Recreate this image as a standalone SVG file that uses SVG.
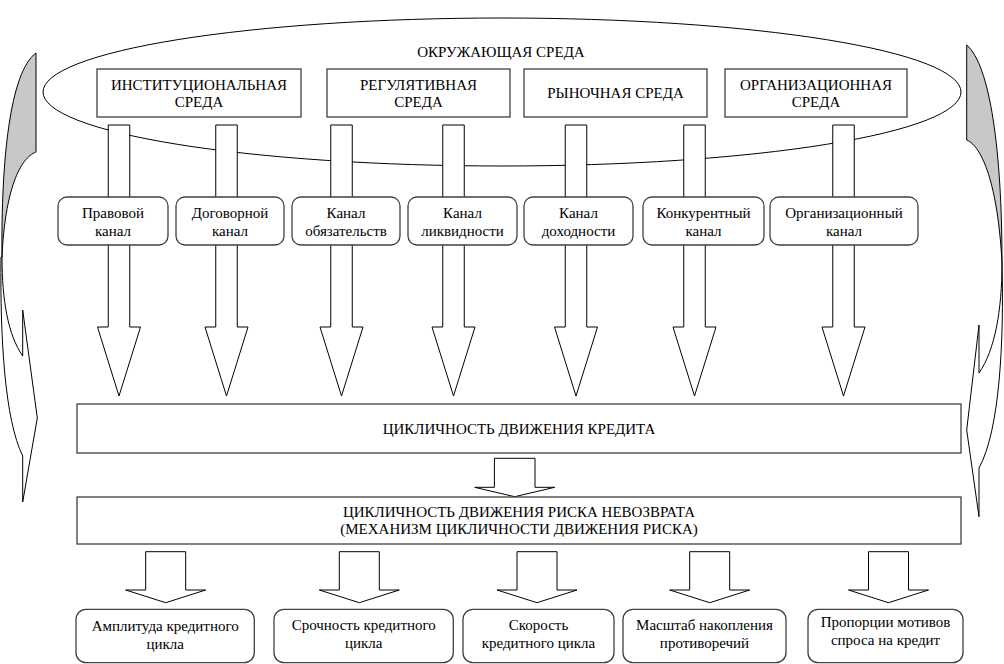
<svg xmlns="http://www.w3.org/2000/svg" xmlns:xlink="http://www.w3.org/1999/xlink" width="1004" height="664" viewBox="0 0 1004 664" font-family="'Liberation Serif', 'DejaVu Serif', serif">
<style>
text{font-family:'Liberation Serif','Times New Roman','DejaVu Serif',serif;font-size:15px;fill:#000;text-anchor:middle}
.box{fill:#fff;stroke:#404040;stroke-width:1.3}
.arr{fill:#fff;stroke:#000;stroke-width:1}
.side{stroke:#000;stroke-width:1}
</style>
<defs>
<path id="chArrow" d="M-10.75,0 H10.75 V202 H21.5 L0,271 L-21.5,202 H-10.75 Z"/>
<path id="midArrow" d="M-20.3,0 H20.3 V29 H40 L0,38.4 L-40,29 H-20.3 Z"/>
<path id="botArrow" d="M-20,0 H20 V38.3 H40 L0,51 L-40,38.3 H-20 Z"/>
</defs>
<rect width="1004" height="664" fill="#fff"/>

<g id="side-arrows">
<path class="side" fill="#c8c8c8" d="M36,53 L36,152 C20,158 5,190 2,257 C1,160 10,72 36,53 Z"/>
<path class="side" fill="#fff" d="M2,257 C2,300 8,335 22.7,356 L22.7,310 L37.3,418 L22.7,502 L22.7,456 C5,420 0,340 1,257 Z"/>
<path class="side" fill="#c8c8c8" d="M966.7,45 L966.7,140 C982,146 998,185 1002,263 C1002,150 990,65 966.7,45 Z"/>
<path class="side" fill="#fff" d="M1002,263 C1002,310 995,350 979,373 L979,325 L966.7,430 L979,516.7 L979,468 C1000,430 1004,340 1002,263 Z"/>
</g>

<g id="environment">
<ellipse cx="502" cy="92" rx="459" ry="74" fill="none" stroke="#000" stroke-width="1"/>
<text x="501" y="57">ОКРУЖАЮЩАЯ СРЕДА</text>
</g>

<g id="env-institutional">
<rect class="box" x="97" y="69" width="204" height="48"/>
<text x="199" y="90">ИНСТИТУЦИОНАЛЬНАЯ</text>
<text x="199" y="107">СРЕДА</text>
</g>
<g id="env-regulative">
<rect class="box" x="327" y="69" width="183" height="48"/>
<text x="418.5" y="90">РЕГУЛЯТИВНАЯ</text>
<text x="418.5" y="107">СРЕДА</text>
</g>
<g id="env-market">
<rect class="box" x="524" y="69" width="183" height="48"/>
<text x="615.5" y="98">РЫНОЧНАЯ СРЕДА</text>
</g>
<g id="env-organizational">
<rect class="box" x="725" y="69" width="182" height="48"/>
<text x="816" y="90">ОРГАНИЗАЦИОННАЯ</text>
<text x="816" y="107">СРЕДА</text>
</g>

<g id="connectors">
<use xlink:href="#chArrow" class="arr" x="119" y="125"/>
<use xlink:href="#chArrow" class="arr" x="226.5" y="125"/>
<use xlink:href="#chArrow" class="arr" x="341.5" y="125"/>
<use xlink:href="#chArrow" class="arr" x="453.5" y="125"/>
<use xlink:href="#chArrow" class="arr" x="576" y="125"/>
<use xlink:href="#chArrow" class="arr" x="694.5" y="125"/>
<use xlink:href="#chArrow" class="arr" x="843.5" y="125"/>
<use xlink:href="#midArrow" class="arr" x="514.7" y="458.3"/>
<use xlink:href="#botArrow" class="arr" x="165.7" y="551.7"/>
<use xlink:href="#botArrow" class="arr" x="359.3" y="551.7"/>
<use xlink:href="#botArrow" class="arr" x="537" y="551.7"/>
<use xlink:href="#botArrow" class="arr" x="709.7" y="551.7"/>
<use xlink:href="#botArrow" class="arr" x="888.5" y="551.7"/>
</g>

<g id="ch-legal">
<rect class="box" x="58" y="197" width="110" height="48" rx="9"/>
<text x="113" y="218">Правовой</text>
<text x="113" y="236">канал</text>
</g>
<g id="ch-contract">
<rect class="box" x="176" y="197" width="108" height="48" rx="9"/>
<text x="230" y="218">Договорной</text>
<text x="230" y="236">канал</text>
</g>
<g id="ch-obligations">
<rect class="box" x="292" y="197" width="108" height="48" rx="9"/>
<text x="346" y="218">Канал</text>
<text x="346" y="236">обязательств</text>
</g>
<g id="ch-liquidity">
<rect class="box" x="408" y="197" width="109" height="48" rx="9"/>
<text x="462.5" y="218">Канал</text>
<text x="462.5" y="236">ликвидности</text>
</g>
<g id="ch-yield">
<rect class="box" x="524" y="197" width="109" height="48" rx="9"/>
<text x="578.5" y="218">Канал</text>
<text x="578.5" y="236">доходности</text>
</g>
<g id="ch-competitive">
<rect class="box" x="643" y="197" width="121" height="48" rx="9"/>
<text x="703.5" y="218">Конкурентный</text>
<text x="703.5" y="236">канал</text>
</g>
<g id="ch-organizational">
<rect class="box" x="770" y="197" width="148" height="48" rx="9"/>
<text x="844" y="218">Организационный</text>
<text x="844" y="236">канал</text>
</g>

<g id="credit-cycle">
<rect class="box" x="77" y="404" width="884" height="49"/>
<text x="519" y="434">ЦИКЛИЧНОСТЬ ДВИЖЕНИЯ КРЕДИТА</text>
</g>
<g id="risk-cycle">
<rect class="box" x="77" y="497" width="884" height="47"/>
<text x="519" y="517">ЦИКЛИЧНОСТЬ ДВИЖЕНИЯ РИСКА НЕВОЗВРАТА</text>
<text x="519" y="534">(МЕХАНИЗМ ЦИКЛИЧНОСТИ ДВИЖЕНИЯ РИСКА)</text>
</g>

<g id="out-amplitude">
<rect class="box" x="76" y="609.3" width="178.3" height="53.4" rx="10"/>
<text x="165.2" y="630.5">Амплитуда кредитного</text>
<text x="165.2" y="648.5">цикла</text>
</g>
<g id="out-urgency">
<rect class="box" x="274" y="609.3" width="179.3" height="53.4" rx="10"/>
<text x="363.7" y="630">Срочность кредитного</text>
<text x="363.7" y="648">цикла</text>
</g>
<g id="out-speed">
<rect class="box" x="463" y="609.3" width="151" height="53.4" rx="10"/>
<text x="538.5" y="630">Скорость</text>
<text x="538.5" y="648">кредитного цикла</text>
</g>
<g id="out-scale">
<rect class="box" x="623" y="609.3" width="163" height="53.4" rx="10"/>
<text x="704.5" y="629.5">Масштаб накопления</text>
<text x="704.5" y="647.5">противоречий</text>
</g>
<g id="out-proportions">
<rect class="box" x="808" y="609.3" width="155" height="53.4" rx="10"/>
<text x="885.5" y="627">Пропорции мотивов</text>
<text x="885.5" y="645">спроса на кредит</text>
</g>
</svg>
